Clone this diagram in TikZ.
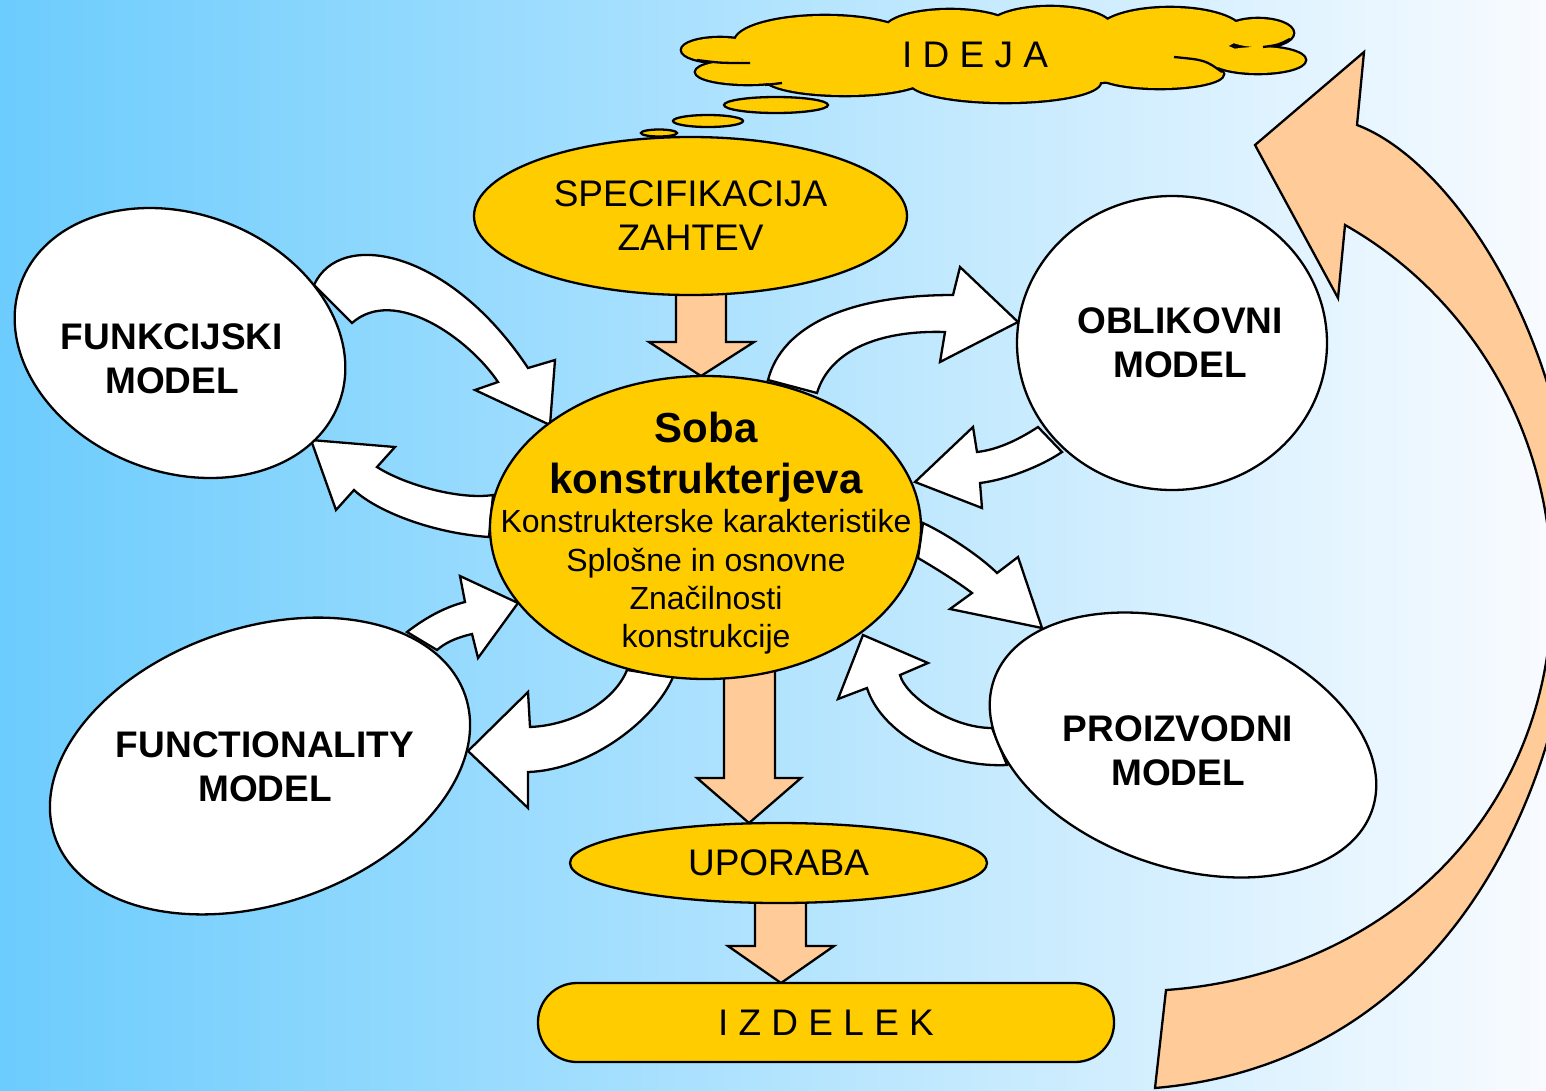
\documentclass[tikz,border=0pt]{standalone}
\usepackage{fontspec}
\setmainfont{Liberation Sans}
\usepackage{xcolor}
\usepackage{tikz}
\usetikzlibrary{positioning,calc,shapes.geometric}

\definecolor{gold}{RGB}{255,204,0}
\definecolor{peach}{RGB}{255,204,153}
\definecolor{skyleft}{RGB}{108,204,253}
\definecolor{skyright}{RGB}{248,251,255}

\begin{document}
\begin{tikzpicture}[x=1pt,y=-1pt,line width=2.3pt,
	goldell/.style={ellipse, draw, fill=gold, inner sep=0pt},
	modelell/.style={ellipse, draw, fill=white, inner sep=0pt},
	plaintxt/.style={align=center, font=\fontsize{37}{44}\selectfont},
	modeltxt/.style={align=center, font=\fontsize{37}{44}\selectfont\bfseries},
	fatarrow/.style={draw, fill=white},
	peacharrow/.style={draw, fill=peach}]

	% background
	\shade[left color=skyleft, right color=skyright] (0,0) rectangle (1546,1090);
	\useasboundingbox (0,0) rectangle (1546,1090);
	\clip (0,0) rectangle (1546,1090);

	% big return arrow
	\draw[peacharrow] (1155,1088) -- (1166,990)
		.. controls (1380,975) and (1552,820) .. (1552,590)
		.. controls (1552,420) and (1460,290) .. (1345,225)
		-- (1338,298) -- (1255,145) -- (1364,52) -- (1357,125)
		.. controls (1450,160) and (1565,330) .. (1575,540)
		.. controls (1582,730) and (1480,1060) .. (1155,1088) -- cycle;

	% cloud
	\foreach \cx/\cy/\rx/\ry in {720/50/38/12, 748/72/52/12, 825/42/90/26, 950/30/65/20, 1050/28/62/21, 1170/32/72/24, 1258/33/35/14, 1258/60/47/13, 1160/74/63/14, 1005/82/95/20, 845/78/80/17, 990/55/250/30}
		\draw[line width=4.6pt] (\cx,\cy) ellipse [x radius=\rx, y radius=\ry];
	\foreach \cx/\cy/\rx/\ry in {720/50/38/12, 748/72/52/12, 825/42/90/26, 950/30/65/20, 1050/28/62/21, 1170/32/72/24, 1258/33/35/14, 1258/60/47/13, 1160/74/63/14, 1005/82/95/20, 845/78/80/17, 990/55/250/30}
		\fill[gold] (\cx,\cy) ellipse [x radius=\rx, y radius=\ry];
	\draw (697,60) .. controls (720,63) .. (750,63);
	\draw (1263,47) .. controls (1278,45) .. (1290,39);
	\draw (1174,57) .. controls (1205,60) .. (1222,72);
	\draw (765,85) -- (782,83);
	\node[plaintxt] (ideja) at (975,55) {I D E J A};

	\draw[fill=gold] (776,105) ellipse [x radius=52, y radius=8];
	\draw[fill=gold] (708,121) ellipse [x radius=35, y radius=6];
	\draw[fill=gold] (659,133) ellipse [x radius=18, y radius=3.5];

	% white arrows
	\draw[fatarrow] (314,285) .. controls (340,228) and (450,250) .. (528,368) -- (555,360) -- (550,425) -- (475,390)
		-- (498,382) .. controls (470,340) and (395,285) .. (352,323) -- cycle;
	\draw[fatarrow] (493,495) .. controls (460,500) and (405,485) .. (377,467) -- (395,447) -- (311,440) -- (336,510)
		-- (354,490) .. controls (375,510) and (430,533) .. (489,537) -- cycle;
	\draw[fatarrow] (768,380) .. controls (782,325) and (850,295) .. (953,295) -- (960,267) -- (1018,322) -- (940,362)
		-- (945,332) .. controls (880,330) and (830,350) .. (817,393) -- cycle;
	\draw[fatarrow] (1038,427) .. controls (1015,442) and (995,450) .. (977,452) -- (973,427) -- (915,482) -- (982,508)
		-- (980,483) .. controls (1005,480) and (1040,467) .. (1062,452) -- cycle;
	\draw[fatarrow] (923,523) .. controls (945,533) and (980,556) .. (997,573) -- (1018,557) -- (1042,628) -- (950,609)
		-- (972,593) .. controls (955,580) and (930,565) .. (918,558) -- cycle;
	\draw[fatarrow] (992,728) .. controls (950,728) and (905,695) .. (900,675) -- (928,663) -- (863,635) -- (838,699)
		-- (867,688) .. controls (880,730) and (940,768) .. (1007,765) -- cycle;
	\draw[fatarrow] (407,632) .. controls (425,618) and (445,607) .. (465,602) -- (460,576) -- (518,603) -- (478,658)
		-- (472,634) .. controls (455,638) and (445,643) .. (437,650) -- cycle;
	\draw[fatarrow] (627,670) .. controls (615,700) and (575,725) .. (530,727) -- (528,692) -- (468,751) -- (528,808)
		-- (528,772) .. controls (590,770) and (655,720) .. (673,677) -- cycle;

	% straight arrows
	\draw[peacharrow] (676,280) -- (676,342) -- (649,342) -- (701,376) -- (754,342) -- (726,342) -- (726,280) -- cycle;
	\draw[peacharrow] (724,660) -- (724,778) -- (697,778) -- (749,823) -- (801,778) -- (775,778) -- (775,660) -- cycle;
	\draw[peacharrow] (755,890) -- (755,946) -- (728,946) -- (781,983) -- (834,946) -- (806,946) -- (806,890) -- cycle;

	% ellipses
	\node[goldell, minimum width=433, minimum height=158, plaintxt] (spec) at (690.5,216) {SPECIFIKACIJA\\ZAHTEV};
	\node[goldell, minimum width=431, minimum height=303] (soba) at (705.5,527.5) {};
	\node[modelell, rotate=-21, minimum width=340, minimum height=258] (funk) at (180,343) {};
	\node[modelell, minimum width=310, minimum height=294] (oblik) at (1172,343) {};
	\node[modelell, rotate=19, minimum width=434, minimum height=276] (func) at (260,766) {};
	\node[modelell, rotate=-19, minimum width=400, minimum height=244] (proiz) at (1183,745) {};
	\node[goldell, minimum width=417, minimum height=80, plaintxt] (uporaba) at (778.5,863) {UPORABA};
	\node[draw, fill=gold, rounded corners=39pt, minimum width=576, minimum height=79, plaintxt] (izdelek) at (826,1022.5) {I Z D E L E K};

	% texts
	\node[align=center, font=\fontsize{42}{51}\selectfont\bfseries] (sobatxt) at (706,457) {Soba\\konstrukterjeva};
	\node[align=center, font=\fontsize{32}{38.3}\selectfont] (sobadesc) at (706,582) {Konstrukterske karakteristike\\Splošne in osnovne\\Značilnosti\\konstrukcije};
	\node[modeltxt] (funktxt) at (172,359) {FUNKCIJSKI\\MODEL};
	\node[modeltxt] (obliktxt) at (1180,343) {OBLIKOVNI\\MODEL};
	\node[modeltxt] (functxt) at (265,767) {FUNCTIONALITY\\MODEL};
	\node[modeltxt] (proiztxt) at (1178,751) {PROIZVODNI\\MODEL};
\end{tikzpicture}
\end{document}
